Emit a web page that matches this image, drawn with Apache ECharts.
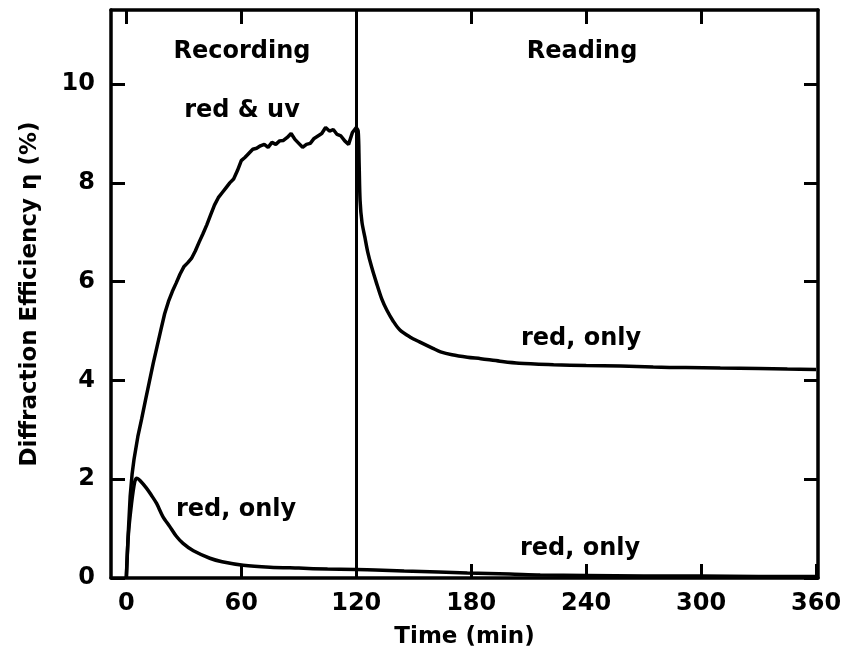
<!DOCTYPE html>
<html><head><meta charset="utf-8">
<script src="https://cdn.jsdelivr.net/npm/echarts@6/dist/echarts.min.js"></script>
<style>html,body{margin:0;padding:0;background:#fff}#c{width:846px;height:662px}</style>
</head><body><div id="c"></div>
<script>
const xTicks = [0, 60, 120, 180, 240, 300, 360];
const yTicks = [0, 2, 4, 6, 8, 10];

// Recording, red & uv
const recUvT = [0,1,2,3,4,6,8,10,12,14,16,18,20,22,24,26,28,30,32,34,36,38,40,42,44,46,48,50,52,54,56,58,60,62,64,66,68,70,72,74,76,78,80,82,84,86,88,90,92,94,96,98,100,102,104,106,108,110,112,114,116,118,120];
const recUvY = [0,0.9,1.65,2.1,2.4,2.86,3.22,3.6,3.97,4.34,4.68,5.02,5.35,5.6,5.8,5.97,6.15,6.3,6.38,6.47,6.62,6.8,6.97,7.15,7.35,7.55,7.7,7.8,7.9,8.0,8.08,8.25,8.45,8.52,8.6,8.68,8.7,8.75,8.78,8.72,8.82,8.78,8.85,8.86,8.92,9.0,8.88,8.8,8.72,8.78,8.8,8.9,8.95,9.0,9.12,9.05,9.08,8.98,8.95,8.85,8.78,9.02,9.12];

// Reading, red only (upper curve)
const readUpT = [120,121,121.5,122,123,124.5,126,128,130.5,133.3,136,139.3,142.8,148,153,160,164,170,178,185,195,205,223,240,258,275,292,310,330,345,360];
const readUpY = [9.12,9.05,8.4,7.64,7.2,6.9,6.6,6.3,5.98,5.65,5.42,5.2,5.02,4.88,4.78,4.65,4.58,4.52,4.47,4.44,4.39,4.35,4.32,4.3,4.29,4.27,4.26,4.25,4.24,4.23,4.22];

// Recording, red only (lower curve)
const recRedT = [0,1,2.7,4.4,5.5,7,10.5,13,15.8,19,22.7,26,29.6,35,43.6,50,61,75,90,105,120];
const recRedY = [0,0.84,1.5,1.95,2.02,1.98,1.82,1.68,1.51,1.25,1.04,0.85,0.7,0.55,0.4,0.33,0.26,0.22,0.2,0.18,0.17];

// Reading, red only (lower curve)
const readRedT = [120,130,145,163,178,200,216,240,270,300,330,360];
const readRedY = [0.17,0.16,0.14,0.12,0.1,0.08,0.06,0.05,0.04,0.04,0.03,0.03];

const phaseLine = 120;

function zip(a, b) { return a.map((v, i) => [v, b[i]]); }

const FONT = 'DejaVu Sans';
const TXT = 'bold 24px "DejaVu Sans"';
const lineStyle = { color: '#000', width: 3.5 };
const axisCommon = {
  type: 'value',
  axisLine: { show: true, onZero: false, lineStyle: { color: '#000', width: 3.5 } },
  splitLine: { show: false },
  axisTick: { show: true, inside: true, length: 14, lineStyle: { color: '#000', width: 3 } }
};

const chart = echarts.init(document.getElementById('c'), null, { renderer: 'canvas' });
chart.setOption({
  backgroundColor: '#fff',
  animation: false,
  grid: { left: 111, right: 28, top: 10, bottom: 84 },
  xAxis: [
    Object.assign({}, axisCommon, {
      position: 'bottom', min: -8, max: 361,
      axisTick: Object.assign({}, axisCommon.axisTick, { customValues: xTicks }),
      axisLabel: { customValues: xTicks, margin: 14, fontSize: 24, fontWeight: 'bold', fontFamily: FONT, color: '#000' },
      name: 'Time (min)', nameLocation: 'middle', nameGap: 48,
      nameTextStyle: { fontSize: 23, fontWeight: 'bold', fontFamily: FONT, color: '#000' }
    }),
    Object.assign({}, axisCommon, {
      position: 'top', min: -8, max: 361,
      axisTick: Object.assign({}, axisCommon.axisTick, { customValues: xTicks.slice(0, 6) }),
      axisLabel: { show: false }
    })
  ],
  yAxis: [
    Object.assign({}, axisCommon, {
      position: 'left', min: 0, max: 11.5,
      axisTick: Object.assign({}, axisCommon.axisTick, { customValues: yTicks }),
      axisLabel: { customValues: yTicks, margin: 16, fontSize: 24, fontWeight: 'bold', fontFamily: FONT, color: '#000' },
      name: 'Diffraction Efficiency η (%)', nameLocation: 'middle', nameGap: 69,
      nameTextStyle: { fontSize: 23, fontWeight: 'bold', fontFamily: FONT, color: '#000' }
    }),
    Object.assign({}, axisCommon, {
      position: 'right', min: 0, max: 11.5,
      axisTick: Object.assign({}, axisCommon.axisTick, { customValues: yTicks }),
      axisLabel: { show: false }
    })
  ],
  series: [
    { name: 'red & uv', type: 'line', data: zip(recUvT, recUvY), symbol: 'none', lineStyle: lineStyle, silent: true,
      markLine: { silent: true, symbol: 'none', label: { show: false }, lineStyle: { color: '#000', width: 3, type: 'solid' }, data: [{ xAxis: phaseLine }] } },
    { name: 'red, only (reading, upper)', type: 'line', data: zip(readUpT, readUpY), symbol: 'none', smooth: 0.3, lineStyle: lineStyle, silent: true },
    { name: 'red, only (recording)', type: 'line', data: zip(recRedT, recRedY), symbol: 'none', smooth: 0.3, lineStyle: lineStyle, silent: true },
    { name: 'red, only (reading, lower)', type: 'line', data: zip(readRedT, readRedY), symbol: 'none', smooth: 0.3, lineStyle: lineStyle, silent: true }
  ],
  graphic: [
    { type: 'text', x: 242, y: 52, style: { text: 'Recording', font: TXT, fill: '#000', align: 'center', verticalAlign: 'middle' } },
    { type: 'text', x: 582, y: 52, style: { text: 'Reading', font: TXT, fill: '#000', align: 'center', verticalAlign: 'middle' } },
    { type: 'text', x: 242, y: 111, style: { text: 'red & uv', font: TXT, fill: '#000', align: 'center', verticalAlign: 'middle' } },
    { type: 'text', x: 236, y: 510, style: { text: 'red, only', font: TXT, fill: '#000', align: 'center', verticalAlign: 'middle' } },
    { type: 'text', x: 581, y: 339, style: { text: 'red, only', font: TXT, fill: '#000', align: 'center', verticalAlign: 'middle' } },
    { type: 'text', x: 580, y: 549, style: { text: 'red, only', font: TXT, fill: '#000', align: 'center', verticalAlign: 'middle' } }
  ]
});
</script>
</body></html>
